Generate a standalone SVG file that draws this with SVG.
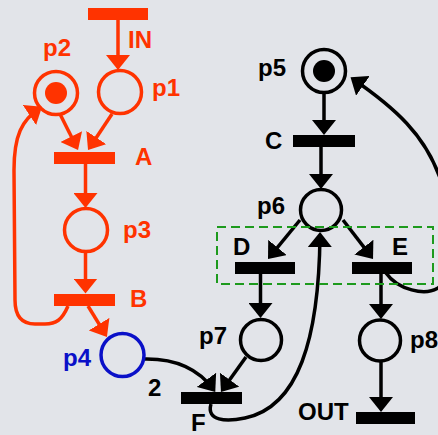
<svg xmlns="http://www.w3.org/2000/svg" width="438" height="435" viewBox="0 0 438 435">
<defs>
<marker id="ao" viewBox="0 0 15 24" refX="12" refY="12" markerWidth="15" markerHeight="24" markerUnits="userSpaceOnUse" orient="auto"><path d="M0,0 L15,12 L0,24 z" fill="#ff3300"/></marker>
<marker id="ak" viewBox="0 0 15 24" refX="12" refY="12" markerWidth="15" markerHeight="24" markerUnits="userSpaceOnUse" orient="auto"><path d="M0,0 L15,12 L0,24 z" fill="#000"/></marker>
<style>
.lbl{font-family:"Liberation Sans",Arial,sans-serif;font-weight:bold;font-size:24px}
.o{fill:#ff3300}
.k{fill:#000}
.b{fill:#0a10c8}
.po{fill:none;stroke:#ff3300;stroke-width:3.5}
.pk{fill:none;stroke:#000;stroke-width:3.5}
.pb{fill:none;stroke:#0a10c8;stroke-width:3.5}
.co{fill:none;stroke:#ff3300;stroke-width:3.5;marker-end:url(#ao)}
.ck{fill:none;stroke:#000;stroke-width:3.5;marker-end:url(#ak)}
</style>
</defs>
<rect width="438" height="435" fill="#e2e4e9"/>
<g id="connectors">
<path class="co" d="M118 19 L118 67"/>
<path class="co" d="M60 114 L76.7 147.3"/>
<path class="co" d="M112 114 L89.7 147.5"/>
<path class="co" d="M85.5 164 L85.5 205"/>
<path class="co" d="M85.5 252 L85.5 290.5"/>
<path class="co" d="M88 306 L105.4 334.4"/>
<path class="co" d="M68 306 C62 320 56 324 45 324 L35 324 C22 324 15 316 15 300 L14 170 C14 135 22 120 39.5 108.5"/>
<path class="ck" d="M143 359 C178 358 200 371 213.5 389.5"/>
<path class="ck" d="M246 357 L222.7 389.5"/>
<path class="ck" d="M211 404 C206 421 226 422 245 418 C298 407 319 340 320 235"/>
<path class="ck" d="M324 93 L324 132"/>
<path class="ck" d="M321 147 L321 186"/>
<path class="ck" d="M300 220 L269.9 256.7"/>
<path class="ck" d="M343 220 L371.2 256.6"/>
<path class="ck" d="M260.5 274 L260.5 315"/>
<path class="ck" d="M381 274 L381 316"/>
<path class="ck" d="M381 362 L381 409"/>
<path class="ck" d="M386 273 C398 290 425 296 438 288 C452 278 452 215 440 178 C425 135 395 108 353 79"/>
<text class="lbl k" x="148" y="396">2</text>
</g>
<g id="IN"><rect x="88" y="8" width="60" height="12" class="o"/><text class="lbl o" x="128" y="48">IN</text></g>
<g id="p1"><circle cx="120" cy="92" r="21.5" class="po"/><text class="lbl o" x="152" y="96">p1</text></g>
<g id="p2"><circle cx="56" cy="93" r="21.5" class="po"/><circle cx="56" cy="93" r="11" class="o"/><text class="lbl o" x="43" y="56">p2</text></g>
<g id="A"><rect x="54" y="152" width="61" height="12" class="o"/><text class="lbl o" x="135" y="165">A</text></g>
<g id="p3"><circle cx="86" cy="230" r="21.5" class="po"/><text class="lbl o" x="123" y="238">p3</text></g>
<g id="B"><rect x="54" y="294" width="61" height="12" class="o"/><text class="lbl o" x="130" y="307">B</text></g>
<g id="p4"><circle cx="122.5" cy="355" r="21.5" class="pb"/><text class="lbl b" x="63" y="366">p4</text></g>
<g id="F"><rect x="181" y="392" width="61" height="12" class="k"/><text class="lbl k" x="191" y="431">F</text></g>
<g id="p5"><circle cx="324" cy="71" r="21.5" class="pk"/><circle cx="324" cy="71" r="11" class="k"/><text class="lbl k" x="258" y="76">p5</text></g>
<g id="C"><rect x="293" y="135" width="62" height="12" class="k"/><text class="lbl k" x="265" y="149">C</text></g>
<g id="p6"><circle cx="321" cy="210" r="20.5" class="pk"/><text class="lbl k" x="257" y="214">p6</text></g>
<g id="D"><rect x="235" y="262" width="60" height="12" class="k"/><text class="lbl k" x="233" y="255">D</text></g>
<g id="E"><rect x="352" y="262" width="60" height="12" class="k"/><text class="lbl k" x="392" y="255">E</text></g>
<g id="p7"><circle cx="261" cy="340" r="20.5" class="pk"/><text class="lbl k" x="199" y="344">p7</text></g>
<g id="p8"><circle cx="380" cy="340.5" r="20.5" class="pk"/><text class="lbl k" x="410" y="348">p8</text></g>
<g id="OUT"><rect x="356" y="412" width="59" height="12" class="k"/><text class="lbl k" x="298" y="420">OUT</text></g>
<rect id="group" x="217" y="227" width="216" height="57" fill="none" stroke="#1d9a1d" stroke-width="2" stroke-dasharray="9,5"/>
</svg>
